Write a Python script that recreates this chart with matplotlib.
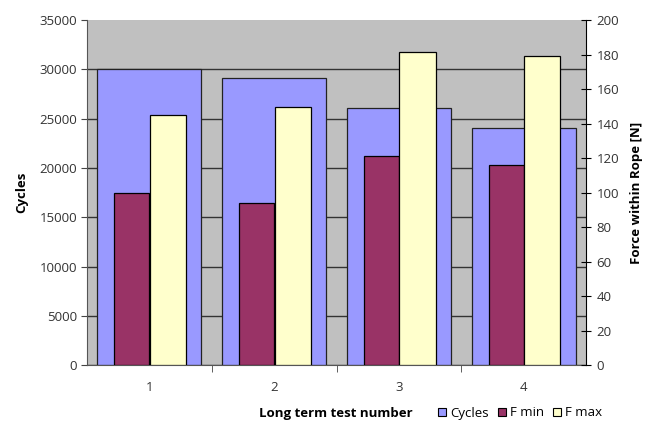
import matplotlib
matplotlib.use("Agg")
import matplotlib.pyplot as plt
import numpy as np
from matplotlib.patches import Patch

tests = ["1", "2", "3", "4"]
cycles = [30000, 29100, 26100, 24100]
f_min = [99.6, 94.0, 121.0, 115.8]
f_max = [144.8, 149.8, 181.6, 179.3]

plt.rcParams['font.family'] = ['Open Sans', 'DejaVu Sans']
plt.rcParams['font.size'] = 9.5

fig = plt.figure(figsize=(6.54, 4.22), dpi=100)
ax = fig.add_axes([87/654, 1-365.3/422, (586-87)/654, (365.3-20)/422])
ax2 = ax.twinx()

x = np.arange(len(tests))
c_blue = "#9999FF"
c_mag = "#993366"
c_yel = "#FFFFCC"

ax.set_facecolor("#C0C0C0")
ax.bar(x, cycles, width=0.833, color=c_blue, edgecolor="#222222", linewidth=0.9, zorder=2)
ax2.bar(x - 0.14, f_min, width=0.28, color=c_mag, edgecolor="black", linewidth=0.9, zorder=3)
ax2.bar(x + 0.15, f_max, width=0.29, color=c_yel, edgecolor="black", linewidth=0.9, zorder=3)

ax.set_xlim(-0.5, len(tests) - 0.5)
ax.set_ylim(0, 35000)
ax.set_yticks(np.arange(0, 35001, 5000))
ax2.set_ylim(0, 200)
ax2.set_yticks(np.arange(0, 201, 20))

ax.set_axisbelow(True)
ax.yaxis.grid(True, color="#333333", linewidth=1.0, zorder=0.5)
ax.get_ygridlines()[-1].set_visible(False)

ax.set_xticks(x)
ax.set_xticklabels(tests)
ax.tick_params(axis='x', length=0, pad=11, colors="#333333")
ax.set_xticks(np.arange(0.5, len(tests) - 0.5, 1.0), minor=True)
ax.tick_params(axis='x', which='minor', length=5, direction='out', color="#444444")
ax.tick_params(axis='y', length=4, direction='out', color="#444444", labelcolor="#333333", pad=3)
ax2.tick_params(axis='y', length=7, direction='inout', color="black", labelcolor="#333333", pad=4)

for s in ["top", "right"]:
    ax.spines[s].set_visible(False)
ax.spines["left"].set_color("#555555")
ax.spines["bottom"].set_color("#555555")
for s in ["top", "left", "bottom"]:
    ax2.spines[s].set_visible(False)
ax2.spines["right"].set_color("black")
ax2.patch.set_visible(False)

ax.set_ylabel("Cycles", fontweight="bold", labelpad=8, fontsize=9.5)
ax2.set_ylabel("Force within Rope [N]", fontweight="bold", labelpad=8, fontsize=9.5)

fig.text(336/654, 1-413/422, "Long term test number", fontweight="bold",
         ha="center", va="center", fontsize=9.5)

handles = [Patch(facecolor=c_blue, edgecolor="black", linewidth=0.8),
           Patch(facecolor=c_mag, edgecolor="black", linewidth=0.8),
           Patch(facecolor=c_yel, edgecolor="black", linewidth=0.8)]
fig.legend(handles, ["Cycles", "F min", "F max"], loc="center left",
           bbox_to_anchor=(438/654, 1-413/422), ncol=3, frameon=False,
           handlelength=0.6, handleheight=0.6, handletextpad=0.3,
           columnspacing=0.7, borderpad=0, borderaxespad=0, fontsize=9.5)

fig.savefig("out.png", dpi=100)
